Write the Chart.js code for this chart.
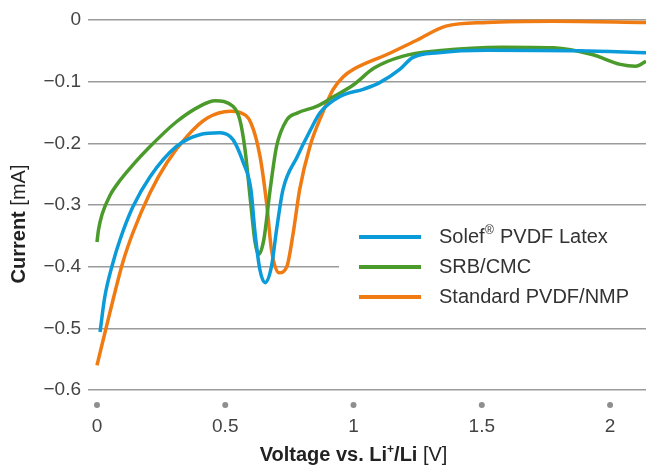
<!DOCTYPE html>
<html>
<head>
<meta charset="utf-8">
<script src="https://cdn.jsdelivr.net/npm/chart.js@4"></script>
<style>
  html, body { margin: 0; padding: 0; background: #fff; }
  #wrap { width: 646px; height: 466px; position: relative; }
</style>
</head>
<body>
<div id="wrap"><canvas id="cv"></canvas></div>
<script>
// series names
const seriesNames = ['Solef® PVDF Latex', 'SRB/CMC', 'Standard PVDF/NMP'];
const seriesColors = ['#0b9bd9', '#4b9b2c', '#ef7b12'];

// Solef PVDF Latex
const solefV = [0.012, 0.03, 0.062, 0.09, 0.14, 0.207, 0.31, 0.40, 0.48, 0.53, 0.57, 0.60, 0.616, 0.635, 0.655, 0.68, 0.70, 0.725, 0.78, 0.83, 0.87, 0.947, 1.04, 1.10, 1.18, 1.23, 1.33, 1.52, 1.88, 2.14];
const solefI = [-0.506, -0.45, -0.394, -0.356, -0.303, -0.254, -0.205, -0.186, -0.183, -0.194, -0.231, -0.275, -0.345, -0.405, -0.426, -0.40, -0.34, -0.275, -0.222, -0.18, -0.15, -0.124, -0.112, -0.102, -0.08, -0.061, -0.053, -0.049, -0.05, -0.053];

// SRB/CMC
const srbV = [0, 0.006, 0.02, 0.05, 0.09, 0.14, 0.2, 0.31, 0.40, 0.46, 0.53, 0.557, 0.577, 0.60, 0.616, 0.63, 0.65, 0.675, 0.70, 0.74, 0.78, 0.856, 0.92, 1.0, 1.08, 1.19, 1.33, 1.58, 1.78, 1.93, 2.04, 2.10, 2.14];
const srbI = [-0.36, -0.34, -0.315, -0.285, -0.26, -0.235, -0.208, -0.165, -0.14, -0.131, -0.14, -0.162, -0.21, -0.30, -0.36, -0.38, -0.357, -0.275, -0.205, -0.162, -0.151, -0.14, -0.125, -0.105, -0.078, -0.059, -0.05, -0.044, -0.045, -0.056, -0.072, -0.075, -0.067];

// Standard PVDF/NMP
const stdV = [0, 0.05, 0.10, 0.14, 0.207, 0.273, 0.35, 0.43, 0.52, 0.557, 0.60, 0.635, 0.662, 0.68, 0.71, 0.74, 0.765, 0.79, 0.83, 0.88, 0.92, 0.96, 1.0, 1.13, 1.25, 1.36, 1.52, 1.78, 2.14];
const stdI = [-0.56, -0.475, -0.394, -0.345, -0.28, -0.231, -0.189, -0.159, -0.148, -0.15, -0.167, -0.22, -0.30, -0.372, -0.41, -0.40, -0.345, -0.275, -0.205, -0.15, -0.113, -0.092, -0.08, -0.056, -0.032, -0.01, -0.004, -0.002, -0.004];

// tick labels
const xTicks = [0, 0.5, 1, 1.5, 2];
const yTicks = [0, -0.1, -0.2, -0.3, -0.4, -0.5, -0.6];

const FONT = '"Liberation Sans", Arial, sans-serif';

function pts(xs, ys) {
    return xs.map((x, i) => ({ x: x, y: ys[i] }));
}

const allData = [pts(solefV, solefI), pts(srbV, srbI), pts(stdV, stdI)];

// titles, tick dots and legend
const decorPlugin = {
    id: 'decor',
    beforeDatasetsDraw(chart) {
        const ctx = chart.ctx;
        ctx.save();
        ctx.fillStyle = '#ffffff';
        ctx.fillRect(339, 218, 307, 97);
        ctx.restore();
    },
    afterDraw(chart) {
        const ctx = chart.ctx;
        const xs = chart.scales.x;
        ctx.save();

        // dots above x tick labels
        ctx.fillStyle = '#8e8e8e';
        xs.ticks.forEach(t => {
            const px = xs.getPixelForValue(t.value);
            ctx.beginPath();
            ctx.arc(px, 405, 3, 0, Math.PI * 2);
            ctx.fill();
        });

        // legend
        ctx.textBaseline = 'middle';
        ctx.textAlign = 'left';
        chart.data.datasets.forEach((ds, i) => {
            const y = 237 + i * 30;
            ctx.strokeStyle = ds.borderColor;
            ctx.lineWidth = 4;
            ctx.beginPath();
            ctx.moveTo(359, y);
            ctx.lineTo(421, y);
            ctx.stroke();

            ctx.fillStyle = '#333333';
            const parts = ds.label.split('®');
            let x = 439;
            ctx.font = '20px ' + FONT;
            ctx.fillText(parts[0], x, y);
            x += ctx.measureText(parts[0]).width;
            if (parts.length > 1) {
                ctx.font = '12px ' + FONT;
                ctx.fillText('®', x + 0.5, y - 6);
                x += ctx.measureText('®').width + 1;
                ctx.font = '20px ' + FONT;
                ctx.fillText(parts[1], x, y);
            }
        });

        // y axis title
        ctx.fillStyle = '#222222';
        ctx.textBaseline = 'alphabetic';
        ctx.translate(25, 224);
        ctx.rotate(-Math.PI / 2);
        ctx.font = 'bold 20px ' + FONT;
        const a = 'Current ';
        const wa = ctx.measureText(a).width;
        ctx.font = '20px ' + FONT;
        const b = '[mA]';
        const wb = ctx.measureText(b).width;
        let sx = -(wa + wb) / 2;
        ctx.font = 'bold 20px ' + FONT;
        ctx.fillText(a, sx, 0);
        ctx.font = '20px ' + FONT;
        ctx.fillText(b, sx + wa, 0);
        ctx.setTransform(1, 0, 0, 1, 0, 0);

        // x axis title
        const segs = [
            { t: 'Voltage vs. Li', f: 'bold 20px ', dy: 0 },
            { t: '+', f: 'bold 12px ', dy: -8 },
            { t: '/Li ', f: 'bold 20px ', dy: 0 },
            { t: '[V]', f: '20px ', dy: 0 }
        ];
        let total = 0;
        segs.forEach(s => { ctx.font = s.f + FONT; s.w = ctx.measureText(s.t).width; total += s.w; });
        let cx = xs.getPixelForValue(1) - total / 2;
        segs.forEach(s => {
            ctx.font = s.f + FONT;
            ctx.fillText(s.t, cx, 461 + s.dy);
            cx += s.w;
        });
        ctx.restore();
    }
};

const ctx = document.getElementById('cv').getContext('2d');
new Chart(ctx, {
    type: 'line',
    data: {
        datasets: allData.map((d, i) => ({
            label: seriesNames[i],
            data: d,
            borderColor: seriesColors[i],
            backgroundColor: seriesColors[i],
            borderWidth: 3.5,
            pointRadius: 0,
            cubicInterpolationMode: 'monotone',
            fill: false,
            clip: false
        }))
    },
    options: {
        responsive: true,
        maintainAspectRatio: false,
        animation: false,
        layout: { padding: { top: 20, left: 0, right: 0, bottom: 0 } },
        plugins: {
            legend: { display: false },
            tooltip: { enabled: false }
        },
        scales: {
            x: {
                type: 'linear',
                min: -0.035,
                max: 2.14,
                afterBuildTicks(scale) {
                    scale.ticks = xTicks.map(v => ({ value: v }));
                },
                afterFit(scale) { scale.height = 76; },
                grid: { display: false },
                border: { display: false },
                ticks: {
                    padding: 17,
                    color: '#444444',
                    font: { size: 19, family: FONT },
                    maxRotation: 0,
                    callback: v => String(v)
                }
            },
            y: {
                type: 'linear',
                min: -0.6,
                max: 0,
                afterBuildTicks(scale) {
                    scale.ticks = yTicks.map(v => ({ value: v }));
                },
                afterFit(scale) { scale.width = 88; },
                grid: { color: '#9b9b9b', lineWidth: 1.5, drawTicks: false },
                border: { display: false },
                ticks: {
                    padding: 7,
                    color: '#444444',
                    font: { size: 19, family: FONT },
                    callback: v => v === 0 ? '0' : '\u2212' + Math.abs(v).toFixed(1)
                }
            }
        }
    },
    plugins: [decorPlugin]
});
</script>
</body>
</html>
